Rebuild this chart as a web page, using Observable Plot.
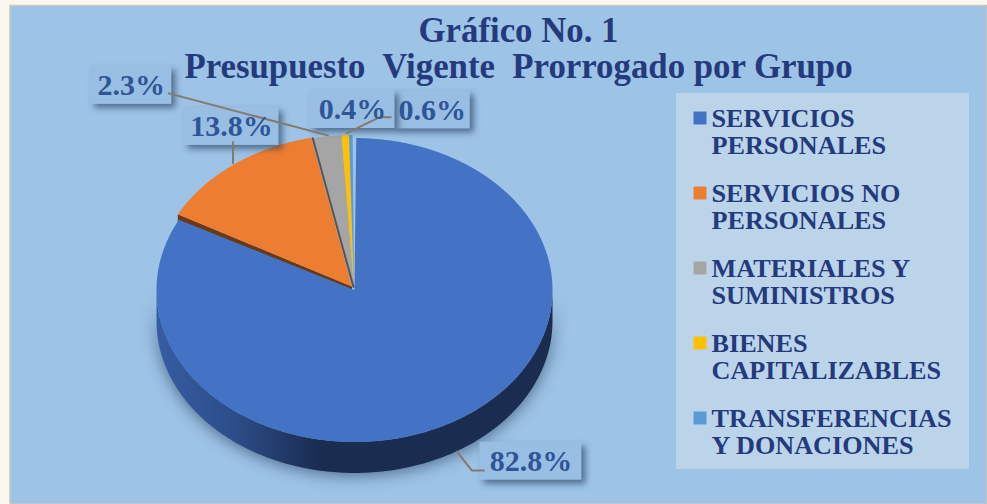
<!DOCTYPE html>
<html><head><meta charset="utf-8">
<script src="https://cdn.jsdelivr.net/npm/d3@7"></script>
<script src="https://cdn.jsdelivr.net/npm/@observablehq/plot@0.6"></script>
<style>html,body{margin:0;padding:0;background:#fbf7ee}svg{display:block}</style>
</head><body><div id="chart"></div>
<script>
const categories = ["SERVICIOS\nPERSONALES","SERVICIOS NO\nPERSONALES","MATERIALES Y\nSUMINISTROS","BIENES\nCAPITALIZABLES","TRANSFERENCIAS\nY DONACIONES"];
const values = [82.8,13.8,2.3,0.6,0.4];
const labels = ["82.8%","13.8%","2.3%","0.6%","0.4%"];
const colors = ["#4472C4","#ED7D31","#A5A5A5","#FFC000","#5B9BD5"];
const titleLines = "Gráfico No. 1\nPresupuesto  Vigente  Prorrogado por Grupo";

// layout
const W=987,H=504,cx=354,cy=289.5,rx=198,ry=152,depth=31;
const font="Liberation Serif";
const deg=Math.PI/180;
const rim=a=>[cx+rx*Math.sin(a),cy-ry*Math.cos(a)];
const pie=d3.pie().sort(null)(values);
const arcPts=(a0,a1)=>{const n=Math.max(2,Math.ceil((a1-a0)*60));return d3.range(n+1).map(i=>rim(a0+(a1-a0)*i/n));};
// each slice sits slightly off the centre, as in an exploded 3-D pie
const shift=[[0,0],[-2.5,-3.5],[-0.5,-3],[-0.5,-3],[-0.5,-3]];
const pad=[[0.5,-0.9],[0,0],[0,0],[0,0],[0,-0.4]];
const slices=pie.flatMap((p,i)=>[[cx,cy],...arcPts(p.startAngle+pad[i][0]*deg,p.endAngle+pad[i][1]*deg),[cx,cy]]
  .map(q=>({x:q[0]+shift[i][0],y:q[1]+shift[i][1],i})));
// side wall: visible front half of the rim, pushed down by the depth
const front=arcPts(Math.PI/2,3*Math.PI/2);
const wall=[...front,...front.slice().reverse().map(q=>[q[0],q[1]+depth])].map(q=>({x:q[0],y:q[1]}));
// cut face under the orange slice
const oa=rim(pie[1].startAngle),ap=[cx,cy];
const cutFace=[[oa[0],oa[1]],[ap[0],ap[1]],[ap[0],ap[1]+10],[oa[0],oa[1]+10]].map(q=>({x:q[0]+shift[1][0],y:q[1]+shift[1][1]}));
const gs=rim(pie[2].startAngle);
const greyEdge=[gs,[cx,cy]].map(q=>({x:q[0]+shift[2][0]-0.5,y:q[1]+shift[2][1]}));
const mid=pie.map(p=>rim((p.startAngle+p.endAngle)/2));
// label boxes relative to the slice's rim midpoint: [dx,dy,halfWidth]
const boxOff=[[75,40.7,51],[-4.5,-41.8,47.5],[-196.5,-54,40.5],[86.5,-28.2,38],[0.5,-28.5,42.5]];
const boxH=19;
const boxes=boxOff.map((o,i)=>({x:mid[i][0]+o[0],y:mid[i][1]+o[1],w:o[2],t:labels[i]}));
const leaderOff=[[[1,31],[16,50],[28,50]],[[-3,-5],[-3,-26]],[[0,-4],[-159,-46]],[[1,-5],[34,-21],[45,-21]],[]];
const leaders=leaderOff.flatMap((l,i)=>l.map(o=>({x:mid[i][0]+o[0],y:mid[i][1]+o[1],i})));
const legendX=711,legendY=117.5,legendStep=75;
const legend=categories.map((t,i)=>({t,i,y:legendY+i*legendStep}));

const defs=()=>{const s=d3.create("svg:defs");
 const g=s.append("linearGradient").attr("id","side");
 [[0,"#365ca3"],[0.2,"#2c4d89"],[0.41,"#1a2c50"],[1,"#1a2c50"]].forEach(([o,c])=>g.append("stop").attr("offset",o).attr("stop-color",c));
 return s.node();};

const boxMark=(d)=>Plot.rect([d],{x1:b=>b.x-b.w,x2:b=>b.x+b.w,y1:b=>b.y-boxH,y2:b=>b.y+boxH,fill:"#98BFE3",imageFilter:"drop-shadow(4px 4px 3px rgba(20,40,70,.55))"});

const plot=Plot.plot({
 width:W,height:H,margin:0,
 x:{domain:[0,W],range:[0,W],axis:null},
 y:{domain:[0,H],range:[0,H],axis:null},
 style:{background:"#fbf7ee",fontFamily:font},
 marks:[
  defs,
  Plot.rect([{}],{x1:10,x2:W,y1:5.5,y2:H,fill:"#9DC3E6",stroke:"#c9c6bb",strokeWidth:1.5}),
  Plot.line(wall,{x:"x",y:"y",fill:"url(#side)",stroke:"none",curve:"linear",imageFilter:"drop-shadow(0px 2px 8px rgba(20,40,70,.6))"}),
  Plot.line(cutFace,{x:"x",y:"y",fill:"#6b3a14",stroke:"none",curve:"linear"}),
  Plot.line(slices,{x:"x",y:"y",z:"i",fill:d=>colors[d.i],stroke:"none",curve:"linear"}),
  Plot.line(greyEdge,{x:"x",y:"y",stroke:"#555",strokeWidth:2}),
  ...boxes.map(boxMark),
  Plot.line(leaders,{x:"x",y:"y",z:"i",stroke:"#84796f",strokeWidth:2,curve:"linear"}),
  Plot.text(boxes,{x:"x",y:"y",text:"t",fill:"#2F5597",fontSize:30,fontWeight:"bold",fontFamily:font}),
  Plot.rect([{}],{x1:676,x2:969,y1:93,y2:469,fill:"#BBD4EA"}),
  Plot.dot(legend,{x:699.5,y:d=>d.y,symbol:"square",r:7.3,fill:d=>colors[d.i]}),
  Plot.text(legend,{x:legendX,y:d=>d.y,text:"t",textAnchor:"start",lineAnchor:"top",dy:-10,lineHeight:1.02,fill:"#243A7D",fontSize:26.2,fontWeight:"bold",fontFamily:font}),
  Plot.text([titleLines],{x:518,y:48,text:d=>d,textAnchor:"middle",lineAnchor:"middle",lineHeight:1.02,fill:"#243A7D",fontSize:34.8,fontWeight:"bold",fontFamily:font})
 ]
});
document.getElementById("chart").append(plot);
</script></body></html>
